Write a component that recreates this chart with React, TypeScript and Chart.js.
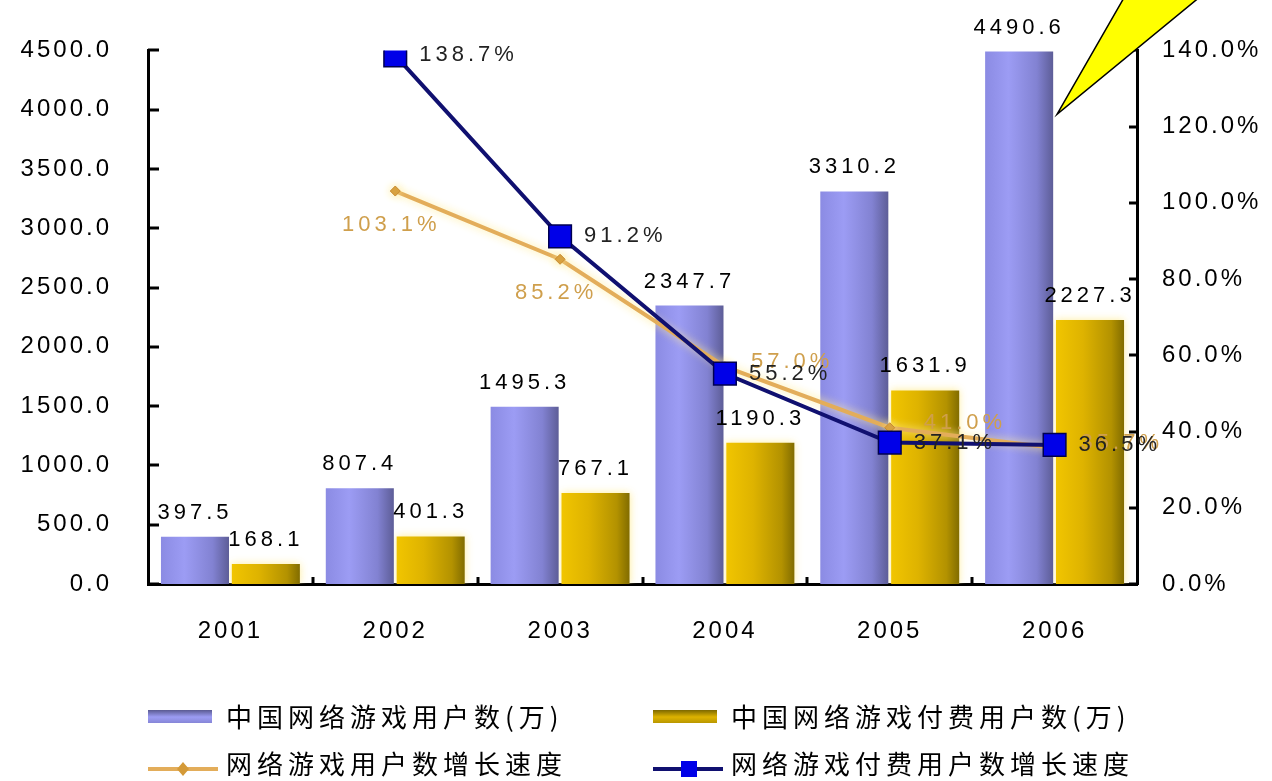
import React, { useEffect, useRef } from 'react';
import { Chart, registerables } from 'chart.js';

Chart.register(...registerables);

// ---- data ----
const years = ['2001', '2002', '2003', '2004', '2005', '2006'];
const gameUsers = [397.5, 807.4, 1495.3, 2347.7, 3310.2, 4490.6];
const paidUsers = [168.1, 401.3, 767.1, 1190.3, 1631.9, 2227.3];
const userGrowth = [null, 103.1, 85.2, 57.0, 41.0, 35.7];
const paidGrowth = [null, 138.7, 91.2, 55.2, 37.1, 36.5];
const seriesNames = [
  '中国网络游戏用户数(万)',
  '中国网络游戏付费用户数(万)',
  '网络游戏用户数增长速度',
  '网络游戏付费用户数增长速度',
];

const CAT_PCT = 0.86;
const BAR_PCT = 0.96;
const TICK_FONT = { family: '"Liberation Sans", Arial, sans-serif', size: 24 };

const blueStops: [number, string][] = [
  [0, '#8a8ae2'],
  [0.35, '#9c9cf4'],
  [0.75, '#8282d2'],
  [1, '#5a5a92'],
];
const goldStops: [number, string][] = [
  [0, '#f2c600'],
  [0.4, '#deb300'],
  [0.8, '#b39200'],
  [1, '#7c6800'],
];

function barGradient(c: any, stops: [number, string][], side: number) {
  const chart = c.chart;
  const x = chart.scales && chart.scales.x;
  if (!x || !chart.chartArea || c.type !== 'data') return stops[1][1];
  const center = x.getPixelForValue(c.dataIndex);
  const slot = ((x.width / years.length) * CAT_PCT) / 2;
  const x0 = side < 0 ? center - slot : center;
  const g = chart.ctx.createLinearGradient(x0, 0, x0 + slot, 0);
  stops.forEach(([o, col]) => g.addColorStop(o, col));
  return g;
}

const glowPlugin = {
  id: 'glow',
  beforeDatasetDraw(chart: any, args: any) {
    if (args.index === 1 || args.index === 2) {
      chart.ctx.save();
      chart.ctx.shadowColor = 'rgba(255,236,150,0.95)';
      chart.ctx.shadowBlur = 8;
    }
  },
  afterDatasetDraw(chart: any, args: any) {
    if (args.index === 1 || args.index === 2) chart.ctx.restore();
  },
};

const innerTicksPlugin = {
  id: 'innerTicks',
  afterDraw(chart: any) {
    const { ctx, chartArea: a, scales } = chart;
    ctx.save();
    ctx.strokeStyle = '#000';
    ctx.lineWidth = 3;
    const line = (x1: number, y1: number, x2: number, y2: number) => {
      ctx.beginPath();
      ctx.moveTo(x1, y1);
      ctx.lineTo(x2, y2);
      ctx.stroke();
    };
    scales.y.ticks.forEach((t: any) => {
      const py = Math.round(scales.y.getPixelForValue(t.value));
      line(a.left, py, a.left + 11, py);
    });
    scales.y1.ticks.forEach((t: any) => {
      const py = Math.round(scales.y1.getPixelForValue(t.value));
      line(a.right - 8, py, a.right, py);
    });
    const n = years.length;
    for (let i = 1; i < n; i++) {
      const px = Math.round(a.left + (i * a.width) / n);
      line(px, a.bottom, px, a.bottom - 7);
    }
    ctx.restore();
  },
};

const labelsPlugin = {
  id: 'valueLabels',
  afterDatasetsDraw(chart: any) {
    const ctx = chart.ctx;
    ctx.save();
    ctx.font = '22px "Liberation Sans", Arial, sans-serif';
    (ctx as any).letterSpacing = '4px';
    // bar values
    [0, 1].forEach((di) => {
      const meta = chart.getDatasetMeta(di);
      const vals = chart.data.datasets[di].data;
      meta.data.forEach((el: any, i: number) => {
        ctx.fillStyle = '#000';
        ctx.textAlign = 'center';
        ctx.textBaseline = 'alphabetic';
        ctx.fillText(Number(vals[i]).toFixed(1), el.x, el.y - 18);
      });
    });
    // growth values (orange)
    {
      const meta = chart.getDatasetMeta(2);
      const vals = chart.data.datasets[2].data;
      meta.data.forEach((el: any, i: number) => {
        if (vals[i] == null) return;
        ctx.fillStyle = '#cf9f4c';
        ctx.textBaseline = 'middle';
        const txt = Number(vals[i]).toFixed(1) + '%';
        if (i <= 2) {
          ctx.textAlign = 'center';
          ctx.fillText(txt, el.x - 4, el.y + 34);
        } else {
          ctx.textAlign = 'left';
          ctx.fillText(txt, el.x + (i === 4 ? 34 : 26), el.y - 5);
        }
      });
    }
    // growth values (blue)
    {
      const meta = chart.getDatasetMeta(3);
      const vals = chart.data.datasets[3].data;
      meta.data.forEach((el: any, i: number) => {
        if (vals[i] == null) return;
        ctx.fillStyle = '#222';
        ctx.textBaseline = 'middle';
        ctx.textAlign = 'left';
        ctx.fillText(Number(vals[i]).toFixed(1) + '%', el.x + 24, el.y);
      });
    }
    ctx.restore();
  },
};

const legendPlugin = {
  id: 'gridLegend',
  afterDraw(chart: any) {
    const { ctx, chartArea: a } = chart;
    const cols = [a.left, a.left + 505];
    const rows = [a.bottom + 133, a.bottom + 180];
    ctx.save();
    seriesNames.forEach((name, k) => {
      const x = cols[k % 2];
      const y = rows[Math.floor(k / 2)];
      if (k < 2) {
        const stops = k === 0 ? blueStops : goldStops;
        const g = ctx.createLinearGradient(0, y - 7, 0, y + 7);
        g.addColorStop(0, stops[3][1]);
        g.addColorStop(0.5, stops[1][1]);
        g.addColorStop(1, stops[2][1]);
        ctx.fillStyle = g;
        ctx.fillRect(x, y - 7, 64, 13);
      } else {
        const ly = y + 5;
        ctx.lineWidth = 4;
        ctx.strokeStyle = k === 2 ? '#e3ad5a' : '#101070';
        ctx.beginPath();
        ctx.moveTo(x, ly);
        ctx.lineTo(x + 70, ly);
        ctx.stroke();
        if (k === 2) {
          ctx.fillStyle = '#d49a38';
          ctx.beginPath();
          ctx.moveTo(x + 35, ly - 7);
          ctx.lineTo(x + 41, ly);
          ctx.lineTo(x + 35, ly + 7);
          ctx.lineTo(x + 29, ly);
          ctx.closePath();
          ctx.fill();
        } else {
          ctx.fillStyle = '#0000e8';
          ctx.fillRect(x + 28, ly - 8, 16, 16);
        }
      }
      ctx.font = '26px "Noto Sans CJK SC", sans-serif';
      (ctx as any).letterSpacing = '5px';
      ctx.fillStyle = '#000';
      ctx.textAlign = 'left';
      ctx.textBaseline = 'middle';
      ctx.fillText(name, x + 78, y);
    });
    ctx.restore();
  },
};

const wedgePlugin = {
  id: 'wedge',
  afterDraw(chart: any) {
    const { ctx, chartArea: a } = chart;
    const tipX = a.right - 80;
    const tipY = a.top + 64;
    ctx.save();
    ctx.fillStyle = '#ffff00';
    ctx.strokeStyle = '#000';
    ctx.lineWidth = 1.5;
    ctx.beginPath();
    ctx.moveTo(tipX, tipY);
    ctx.lineTo(tipX + 68, -4);
    ctx.lineTo(tipX + 144, -4);
    ctx.closePath();
    ctx.fill();
    ctx.stroke();
    ctx.restore();
  },
};

export default function App() {
  const ref = useRef<HTMLCanvasElement | null>(null);

  useEffect(() => {
    document.body.style.margin = '0';
    document.body.style.background = '#fff';
    const canvas = ref.current;
    if (!canvas) return;
    const chart = new Chart(canvas, {
      type: 'bar',
      data: {
        labels: years,
        datasets: [
          {
            type: 'bar',
            label: seriesNames[0],
            data: gameUsers,
            yAxisID: 'y',
            backgroundColor: (c: any) => barGradient(c, blueStops, -1),
            borderWidth: 0,
            barPercentage: BAR_PCT,
            categoryPercentage: CAT_PCT,
            order: 3,
          },
          {
            type: 'bar',
            label: seriesNames[1],
            data: paidUsers,
            yAxisID: 'y',
            backgroundColor: (c: any) => barGradient(c, goldStops, 1),
            borderWidth: 0,
            barPercentage: BAR_PCT,
            categoryPercentage: CAT_PCT,
            order: 3,
          },
          {
            type: 'line',
            label: seriesNames[2],
            data: userGrowth as any,
            yAxisID: 'y1',
            borderColor: '#e3ad5a',
            borderWidth: 4,
            pointStyle: 'rectRot',
            pointRadius: 5,
            pointBackgroundColor: '#d49a38',
            pointBorderColor: '#c88a30',
            pointBorderWidth: 1,
            tension: 0,
            fill: false,
            order: 2,
          },
          {
            type: 'line',
            label: seriesNames[3],
            data: paidGrowth as any,
            yAxisID: 'y1',
            borderColor: '#101070',
            borderWidth: 4,
            pointStyle: 'rect',
            pointRadius: 16,
            pointBackgroundColor: '#0000e8',
            pointBorderColor: '#000050',
            pointBorderWidth: 1.5,
            tension: 0,
            fill: false,
            order: 1,
          },
        ],
      },
      options: {
        responsive: false,
        animation: false,
        events: [],
        layout: { padding: { top: 48, left: 0, right: 0, bottom: 0 } },
        plugins: {
          legend: { display: false },
          tooltip: { enabled: false },
          title: { display: false },
        },
        scales: {
          x: {
            type: 'category',
            grid: { display: false, drawTicks: false },
            border: { display: true, color: '#000', width: 3 },
            ticks: { font: TICK_FONT, color: '#000', padding: 33 },
            afterFit: (s: any) => {
              s.height = 197;
            },
          },
          y: {
            type: 'linear',
            position: 'left',
            min: 0,
            max: 4500,
            grid: { display: false, drawTicks: false },
            border: { display: true, color: '#000', width: 3 },
            ticks: {
              stepSize: 500,
              font: TICK_FONT,
              color: '#000',
              padding: 36,
              callback: (v: any) => Number(v).toFixed(1),
            },
            afterFit: (s: any) => {
              s.width = 148;
            },
          },
          y1: {
            type: 'linear',
            position: 'right',
            min: 0,
            max: 140,
            grid: { display: false, drawTicks: false },
            border: { display: true, color: '#000', width: 3 },
            ticks: {
              stepSize: 20,
              font: TICK_FONT,
              color: '#000',
              padding: 25,
              callback: (v: any) => Number(v).toFixed(1) + '%',
            },
            afterFit: (s: any) => {
              s.width = 135;
            },
          },
        },
      },
      plugins: [
        {
          id: 'spacing',
          beforeDraw(chart: any) {
            (chart.ctx as any).letterSpacing = '3px';
          },
        },
        glowPlugin,
        innerTicksPlugin,
        labelsPlugin,
        legendPlugin,
        wedgePlugin,
      ],
    } as any);
    return () => {
      chart.destroy();
    };
  }, []);

  return (
    <div style={{ width: 1272, height: 781, position: 'relative', background: '#fff' }}>
      <canvas ref={ref} width={1272} height={781} style={{ display: 'block' }} />
    </div>
  );
}
